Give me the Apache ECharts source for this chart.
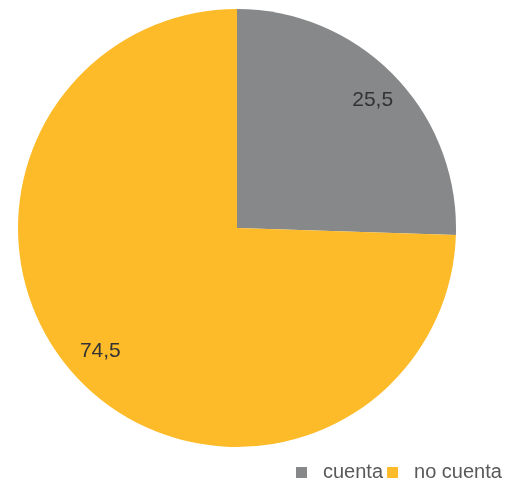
<!DOCTYPE html>
<html><head><meta charset="utf-8">
<script src="https://cdn.jsdelivr.net/npm/echarts@6/dist/echarts.min.js"></script>
<style>html,body{margin:0;padding:0;background:#fff}#c{width:505px;height:484px}</style>
</head><body><div id="c"></div>
<script>
const categories = ['cuenta', 'no cuenta'];
const values = [25.5, 74.5];
const labels = ['25,5', '74,5'];
const colors = ['#868889', '#FDBB29'];
const labelOffsets = [[1, 3], [-2, -7]];

const chart = echarts.init(document.getElementById('c'));
const data = categories.map((n, i) => ({name: n, value: values[i], itemStyle: {color: colors[i]}}));
const labelData = categories.map((n, i) => ({name: n, value: values[i], label: {formatter: labels[i], offset: labelOffsets[i]}}));
chart.setOption({
  animation: false,
  color: colors,
  legend: {
    data: categories,
    left: 296, top: 462, padding: 0,
    icon: 'rect', itemWidth: 11, itemHeight: 11, itemGap: 4,
    textStyle: {fontFamily: 'Liberation Sans', fontSize: 20, color: '#595959', padding: [0,0,0,11], lineHeight: 21}
  },
  series: [
    {
      type: 'pie', center: [237, 228], radius: [0, 219], startAngle: 90, clockwise: true,
      label: {show: false}, labelLine: {show: false}, emphasis: {disabled: true}, silent: true,
      data: data
    },
    {
      type: 'pie', center: [237, 228], radius: [150, 219], startAngle: 90, clockwise: true,
      itemStyle: {color: 'rgba(0,0,0,0)'}, silent: true, emphasis: {disabled: true},
      label: {show: true, position: 'inside', fontFamily: 'Liberation Sans', fontSize: 21, color: '#333333'},
      labelLine: {show: false},
      data: labelData
    }
  ]
});
</script></body></html>
